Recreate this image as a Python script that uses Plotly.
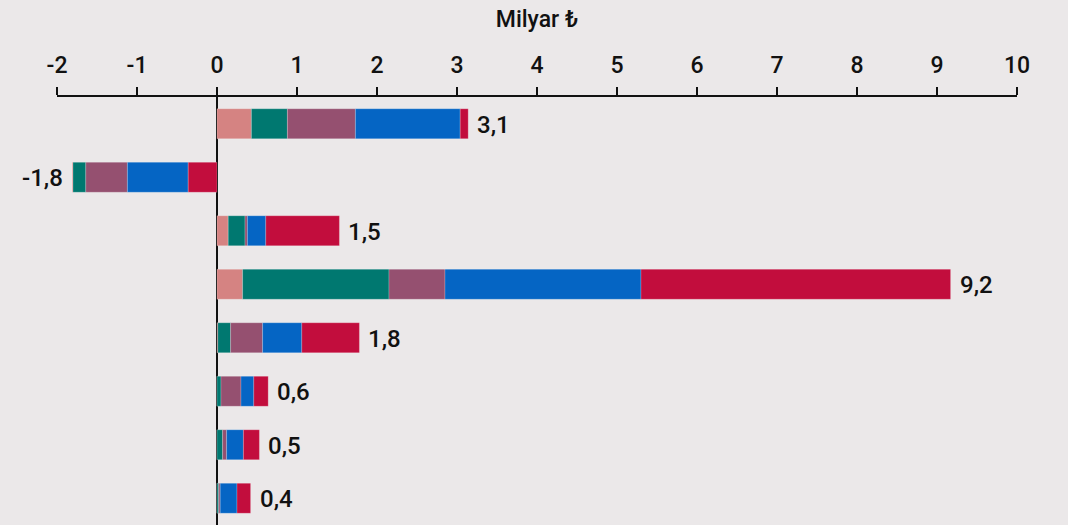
import plotly.graph_objects as go

rows = ["r1", "r2", "r3", "r4", "r5", "r6", "r7", "r8"]
series_names = ["A", "B", "C", "D", "E"]
pink = [0.43, -0.01, 0.14, 0.32, 0.01, 0.00, 0.00, 0.00]
teal = [0.45, -0.16, 0.21, 1.83, 0.16, 0.05, 0.07, 0.02]
mauve = [0.85, -0.52, 0.03, 0.70, 0.40, 0.25, 0.05, 0.02]
blue = [1.31, -0.76, 0.23, 2.45, 0.49, 0.16, 0.21, 0.21]
red = [0.10, -0.36, 0.92, 3.87, 0.72, 0.18, 0.20, 0.17]
x_ticks = [-2, -1, 0, 1, 2, 3, 4, 5, 6, 7, 8, 9, 10]

series = [pink, teal, mauve, blue, red]
colors = ["#d58382", "#007870", "#955070", "#0565c4", "#c20d3d"]
FONT = "Roboto, DejaVu Sans"

# bases: positives stack in series order, negatives stack in reverse order
n = len(rows)
bases = [[0.0] * n for _ in series]
for i in range(n):
    cum = 0.0
    for k in range(len(series)):
        v = series[k][i]
        if v >= 0:
            bases[k][i] = cum
            cum += v
    cum = 0.0
    for k in reversed(range(len(series))):
        v = series[k][i]
        if v < 0:
            bases[k][i] = cum + v
            cum += v

fig = go.Figure()
for k, s in enumerate(series):
    fig.add_trace(go.Bar(
        y=rows, x=[abs(v) for v in s], base=bases[k], orientation="h",
        marker=dict(color=colors[k], line=dict(width=0.6, color="rgba(255,255,255,0.35)")),
        width=0.56, name=series_names[k], showlegend=False, hoverinfo="skip",
    ))

totals = [sum(s[i] for s in series) for i in range(n)]
for i, t in enumerate(totals):
    txt = f"{t:.1f}".replace(".", ",")
    fig.add_annotation(
        x=t, y=rows[i], text=txt, showarrow=False,
        xanchor="left" if t >= 0 else "right",
        xshift=7 if t >= 0 else -7, yshift=-1,
        font=dict(family=FONT, size=24, color="#111111", weight=500),
    )

fig.update_layout(
    width=1068, height=525,
    margin=dict(l=57, r=51, t=97, b=0),
    paper_bgcolor="#ebe8e9", plot_bgcolor="#ebe8e9",
    barmode="overlay",
    font=dict(family=FONT, color="#111111"),
    xaxis=dict(
        side="top", range=[-2, 10], tickvals=x_ticks,
        ticktext=[str(v) for v in x_ticks],
        showgrid=False, zeroline=True, zerolinecolor="#111111", zerolinewidth=2,
        showline=True, linecolor="#111111", linewidth=2,
        ticks="outside", ticklen=8, tickwidth=2, tickcolor="#111111",
        ticklabelstandoff=5,
        tickfont=dict(size=23, family=FONT, weight=500),
        title=dict(text="Milyar ₺", font=dict(size=23, family=FONT, weight=500), standoff=18),
        fixedrange=True,
    ),
    yaxis=dict(
        categoryorder="array", categoryarray=rows,
        autorange=False, range=[7.5, -0.5], showticklabels=False, showgrid=False,
        zeroline=False, showline=False, ticks="", fixedrange=True,
    ),
)

fig.write_html(
    "out.html",
    config={"displayModeBar": False, "staticPlot": True},
    post_script="document.body.style.margin='0';document.body.style.padding='0';document.body.style.background='#ebe8e9';",
)
